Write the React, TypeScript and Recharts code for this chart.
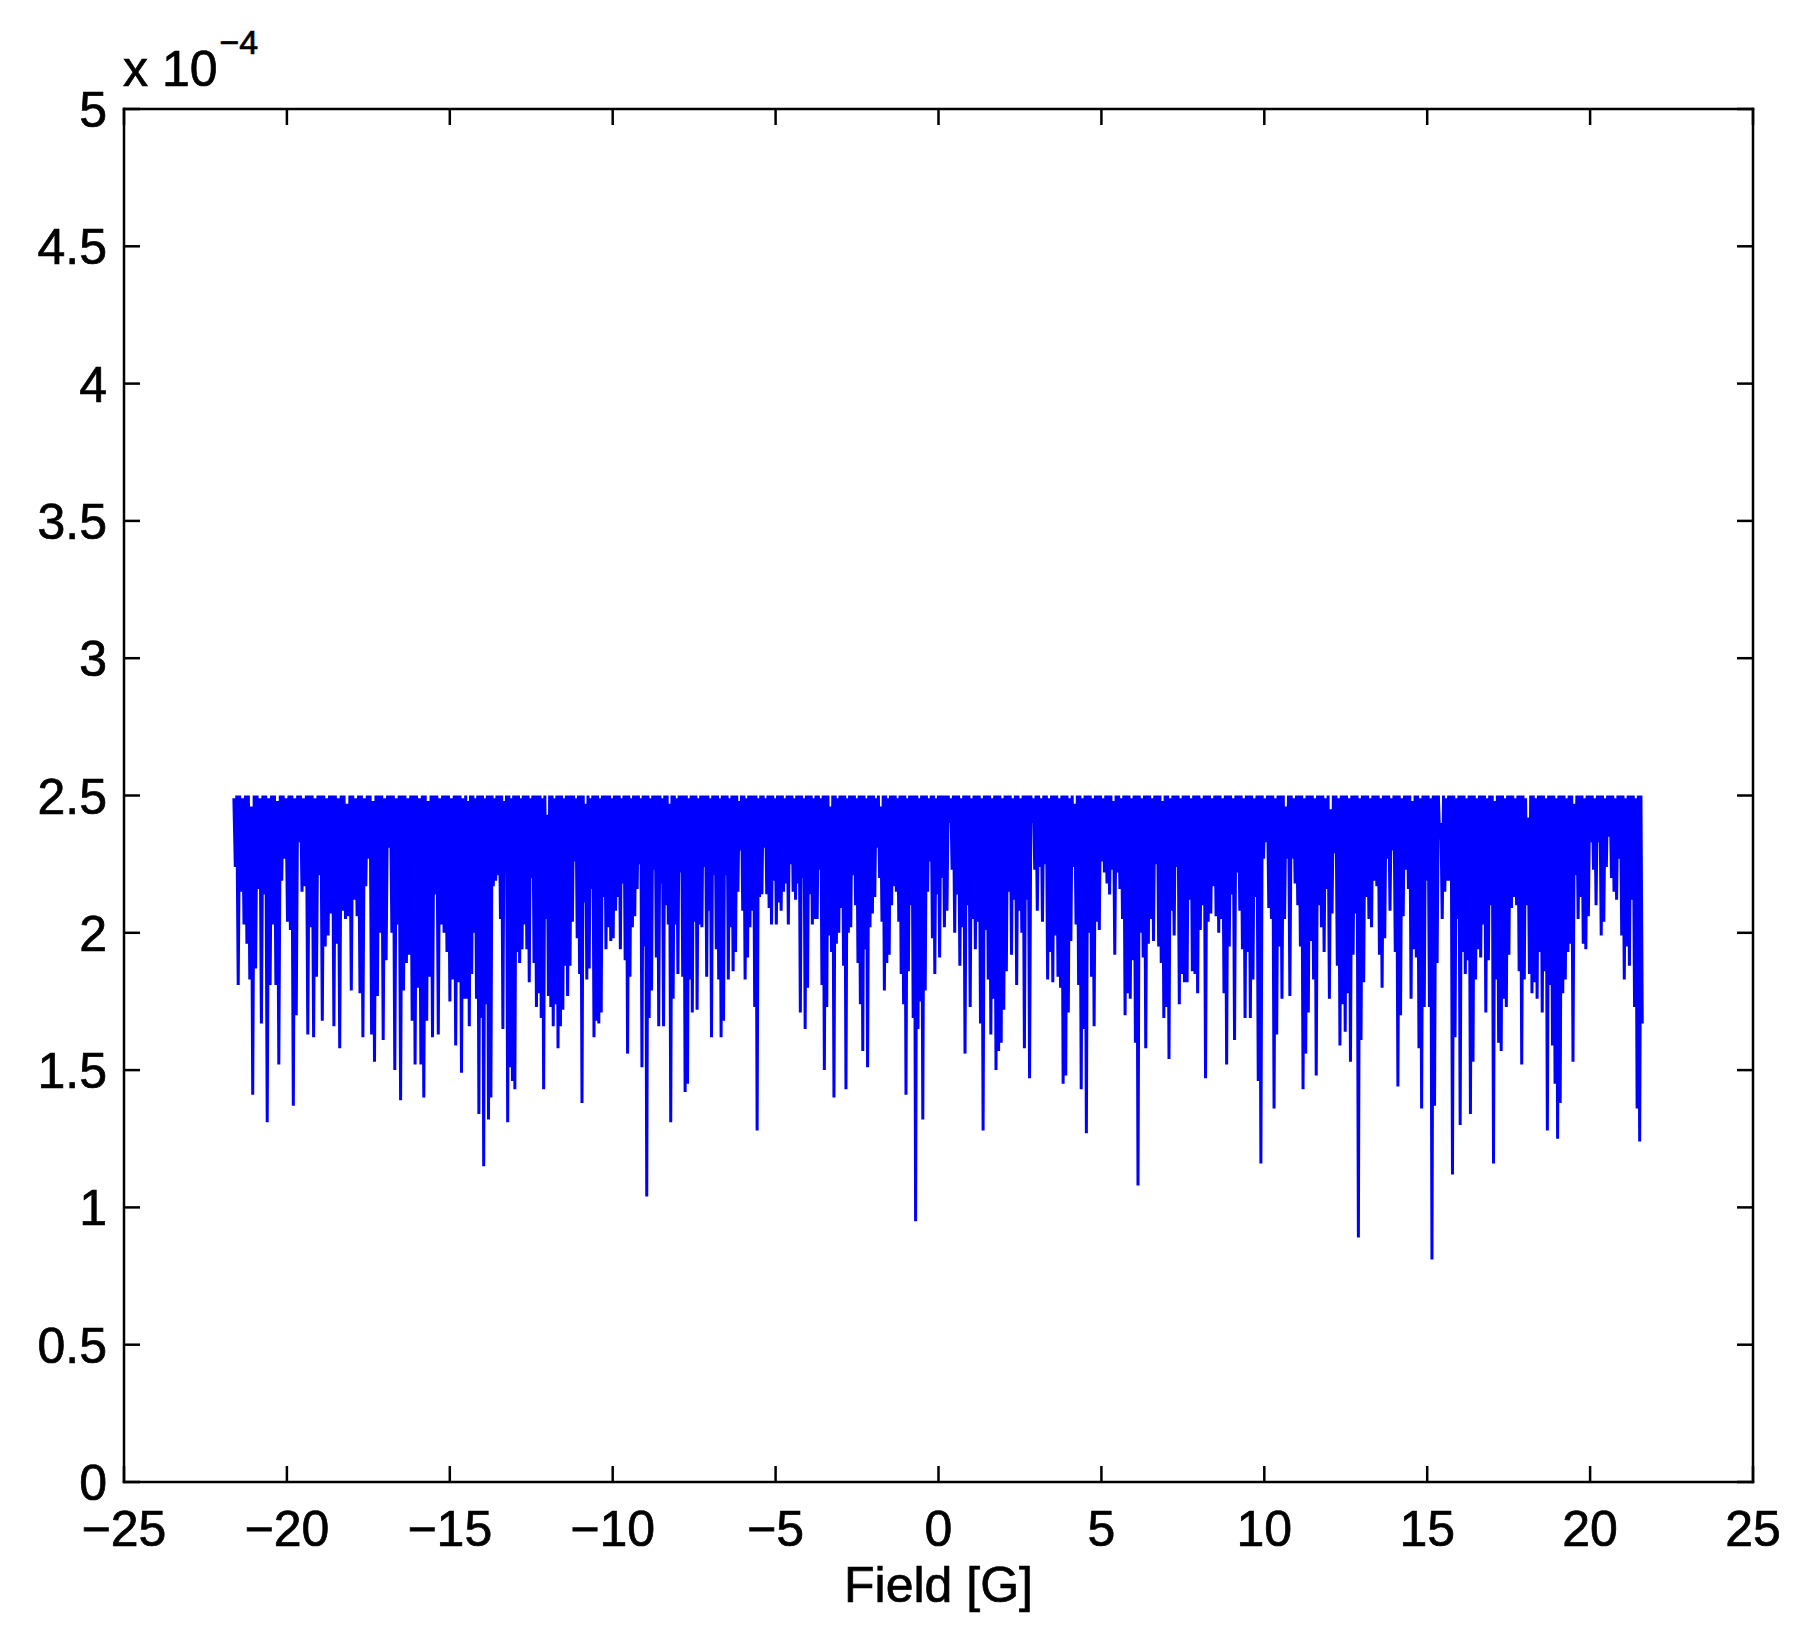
import { ComposedChart, Line, XAxis, YAxis } from 'recharts';

// signal in units of 1e-4 in six field windows.
// each window alternates crest / trough as the sweep oscillates.
const windowA = [
  2.49, 2.24, 2.50, 1.81, 2.50, 2.15, 2.49, 2.03, 2.50, 1.96, 2.50, 1.83, 2.46, 1.41, 2.50, 1.87, 2.50, 2.16, 2.49, 1.67,
  2.50, 2.14, 2.50, 1.31, 2.49, 1.81, 2.50, 2.03, 2.50, 1.81, 2.48, 1.52, 2.50, 2.19, 2.50, 2.27, 2.49, 2.04, 2.50, 2.01,
  2.50, 1.37, 2.49, 1.70, 2.50, 2.33, 2.50, 2.15, 2.49, 2.17, 2.50, 1.63, 2.50, 2.02, 2.50, 1.62, 2.49, 1.84, 2.50, 2.21,
  2.50, 1.68, 2.50, 1.95, 2.49, 1.99, 2.50, 2.07, 2.50, 1.66, 2.50, 1.96, 2.49, 1.58, 2.50, 2.08, 2.50, 2.05, 2.47, 2.06,
  2.50, 1.79, 2.50, 2.12, 2.49, 2.06, 2.50, 1.78, 2.50, 1.62, 2.49, 2.17, 2.50, 2.27, 2.50, 1.63, 2.48, 1.53, 2.50, 1.77,
  2.50, 2.00, 2.50, 1.61, 2.49, 1.90, 2.50, 2.31, 2.50, 2.00, 2.50, 1.50, 2.49, 2.03, 2.50, 1.39, 2.50, 1.79, 2.50, 1.89,
  2.49, 1.92, 2.50, 1.68, 2.50, 1.52, 2.50, 1.80, 2.49, 1.52, 2.50, 1.40, 2.50, 1.68, 2.48, 1.84, 2.50, 1.62, 2.50, 2.14,
  2.50, 1.63, 2.49, 2.03, 2.50, 2.00, 2.50, 1.93, 2.50, 1.75, 2.49, 1.83, 2.50, 1.59, 2.50, 1.82, 2.50, 1.49, 2.49, 1.76,
];

const windowB = [
  2.50, 1.76, 2.48, 1.66, 2.50, 1.85, 2.50, 2.00, 2.49, 1.76, 2.50, 1.34, 2.50, 1.69, 2.50, 1.15, 2.49, 1.74, 2.50, 1.32,
  2.50, 1.40, 2.50, 2.17, 2.49, 2.19, 2.50, 2.21, 2.50, 2.05, 2.50, 1.65, 2.48, 2.22, 2.50, 1.31, 2.50, 1.51, 2.49, 1.46,
  2.50, 1.43, 2.50, 1.93, 2.50, 1.89, 2.49, 1.94, 2.50, 2.03, 2.50, 1.94, 2.50, 1.82, 2.49, 2.20, 2.50, 1.89, 2.50, 1.73,
  2.50, 1.78, 2.50, 1.69, 2.49, 1.43, 2.50, 2.05, 2.43, 1.77, 2.50, 1.73, 2.50, 1.66, 2.49, 1.74, 2.50, 1.58, 2.50, 1.66,
  2.50, 1.72, 2.49, 1.88, 2.50, 1.77, 2.50, 1.88, 2.50, 2.04, 2.50, 2.26, 2.49, 1.98, 2.50, 1.85, 2.50, 1.38, 2.50, 2.11,
  2.47, 1.83, 2.50, 1.87, 2.49, 2.16, 2.50, 1.62, 2.50, 1.68, 2.50, 1.67, 2.49, 1.71, 2.50, 2.13, 2.50, 1.94, 2.50, 2.02,
  2.50, 1.97, 2.49, 1.98, 2.50, 2.08, 2.50, 2.13, 2.50, 1.94, 2.49, 2.18, 2.50, 1.90, 2.50, 1.56, 2.50, 1.84, 2.49, 2.02,
  2.50, 2.06, 2.50, 2.16, 2.50, 2.25, 2.49, 1.51, 2.50, 1.95, 2.50, 1.04, 2.50, 1.69, 2.49, 1.79, 2.50, 2.23, 2.50, 1.91,
  2.50, 1.66, 2.50, 2.18, 2.49, 1.66, 2.50, 2.10, 2.50, 2.03, 2.47, 1.31, 2.50, 1.76, 2.50, 2.03, 2.49, 1.85, 2.50, 2.22,
  2.50, 1.84, 2.50, 1.42, 2.50, 1.45, 2.49, 1.83, 2.50, 1.71, 2.50, 2.04, 2.50, 1.72, 2.49, 2.03, 2.50, 2.02, 2.50, 2.24,
];

const windowC = [
  2.50, 1.84, 2.50, 2.08, 2.49, 1.62, 2.50, 2.21, 2.50, 1.94, 2.50, 1.83, 2.49, 1.62, 2.50, 1.68, 2.50, 2.21, 2.50, 1.83,
  2.49, 2.02, 2.50, 1.86, 2.50, 1.93, 2.50, 2.15, 2.48, 2.30, 2.50, 2.08, 2.50, 1.83, 2.49, 1.91, 2.50, 2.02, 2.50, 2.08,
  2.50, 1.73, 2.50, 1.28, 2.49, 2.13, 2.50, 2.14, 2.50, 2.31, 2.49, 2.14, 2.50, 2.09, 2.50, 2.03, 2.50, 2.19, 2.49, 2.03,
  2.50, 2.11, 2.50, 2.08, 2.50, 2.15, 2.49, 2.18, 2.50, 2.03, 2.50, 2.25, 2.50, 2.15, 2.49, 2.12, 2.50, 2.18, 2.50, 1.71,
  2.50, 2.20, 2.49, 1.65, 2.50, 1.80, 2.50, 2.14, 2.50, 2.03, 2.49, 2.05, 2.50, 2.05, 2.50, 2.23, 2.49, 1.81, 2.50, 1.50,
  2.50, 1.73, 2.50, 1.99, 2.46, 1.93, 2.50, 1.40, 2.50, 1.96, 2.49, 2.00, 2.50, 2.09, 2.50, 1.88, 2.50, 1.43, 2.49, 2.00,
  2.50, 2.02, 2.50, 2.21, 2.50, 2.10, 2.49, 1.89, 2.50, 1.74, 2.50, 1.57, 2.50, 1.94, 2.49, 1.51, 2.50, 2.02, 2.50, 2.07,
  2.50, 2.13, 2.49, 2.31, 2.50, 2.20, 2.46, 2.04, 2.50, 1.79, 2.50, 1.89, 2.49, 1.92, 2.50, 2.10, 2.50, 2.17, 2.50, 2.15,
  2.49, 2.04, 2.50, 1.85, 2.50, 1.74, 2.50, 1.41, 2.49, 1.86, 2.50, 2.10, 2.50, 1.69, 2.50, 0.95, 2.50, 1.65, 2.49, 1.75,
  2.50, 1.32, 2.50, 1.79, 2.50, 2.15, 2.49, 2.26, 2.50, 1.98, 2.50, 1.85, 2.49, 2.14, 2.50, 1.91, 2.50, 2.20, 2.50, 2.02,
];

const windowD = [
  2.50, 2.08, 2.50, 2.40, 2.49, 2.23, 2.50, 2.00, 2.50, 2.14, 2.50, 1.88, 2.49, 2.02, 2.50, 1.56, 2.50, 2.10, 2.50, 1.73,
  2.49, 2.05, 2.50, 1.94, 2.50, 2.04, 2.50, 1.67, 2.49, 1.28, 2.50, 2.01, 2.50, 1.83, 2.50, 1.63, 2.49, 1.76, 2.50, 1.50,
  2.50, 1.57, 2.50, 1.60, 2.49, 1.72, 2.50, 1.86, 2.50, 2.15, 2.50, 1.92, 2.49, 2.12, 2.50, 1.81, 2.50, 2.08, 2.49, 2.00,
  2.50, 1.58, 2.50, 2.12, 2.50, 1.47, 2.50, 2.40, 2.49, 2.23, 2.50, 2.08, 2.50, 2.24, 2.49, 2.04, 2.50, 2.25, 2.50, 1.83,
  2.49, 1.93, 2.50, 1.82, 2.50, 1.99, 2.50, 1.84, 2.49, 1.80, 2.50, 1.45, 2.50, 1.48, 2.50, 1.71, 2.49, 1.97, 2.50, 2.24,
  2.47, 2.03, 2.50, 1.81, 2.50, 1.43, 2.49, 1.65, 2.50, 1.27, 2.50, 2.00, 2.50, 1.84, 2.49, 1.66, 2.50, 2.04, 2.50, 2.01,
  2.50, 2.26, 2.49, 2.22, 2.50, 2.18, 2.50, 2.14, 2.50, 2.23, 2.48, 1.92, 2.50, 2.22, 2.50, 2.16, 2.49, 2.05, 2.50, 1.70,
  2.50, 1.78, 2.50, 1.76, 2.49, 1.90, 2.50, 1.60, 2.50, 1.08, 2.50, 2.00, 2.49, 1.91, 2.50, 1.58, 2.50, 1.96, 2.50, 2.05,
  2.49, 1.97, 2.50, 2.25, 2.50, 1.95, 2.50, 1.89, 2.48, 1.69, 2.50, 1.73, 2.50, 1.54, 2.49, 2.08, 2.50, 1.99, 2.50, 2.24,
  2.50, 1.74, 2.49, 1.85, 2.50, 1.82,
];

const windowE = [
  2.50, 1.82, 2.50, 2.12, 2.49, 1.86, 2.50, 1.85, 2.50, 1.78, 2.50, 2.01, 2.49, 2.10, 2.50, 1.47, 2.50, 2.04, 2.50, 2.07,
  2.49, 2.17, 2.50, 2.06, 2.50, 2.00, 2.50, 2.05, 2.49, 1.78, 2.50, 1.52, 2.50, 1.95, 2.50, 2.14, 2.49, 1.61, 2.50, 2.22,
  2.50, 2.08, 2.50, 1.94, 2.49, 1.69, 2.50, 1.93, 2.50, 1.69, 2.50, 1.83, 2.49, 2.13, 2.50, 1.46, 2.50, 1.16, 2.50, 2.27,
  2.49, 2.33, 2.50, 2.09, 2.50, 2.05, 2.50, 1.36, 2.49, 1.63, 2.50, 1.95, 2.50, 1.76, 2.50, 2.05, 2.46, 2.27, 2.50, 1.77,
  2.50, 2.27, 2.49, 2.18, 2.50, 2.10, 2.50, 1.95, 2.50, 1.43, 2.49, 1.56, 2.50, 1.71, 2.50, 1.97, 2.50, 1.83, 2.49, 1.48,
  2.50, 2.10, 2.50, 2.02, 2.50, 1.93, 2.49, 2.16, 2.50, 1.76, 2.45, 2.07, 2.50, 2.29, 2.50, 1.88, 2.49, 1.59, 2.50, 1.74,
  2.50, 1.64, 2.50, 1.78, 2.49, 1.53, 2.50, 1.92, 2.50, 2.07, 2.50, 0.89, 2.49, 1.61, 2.50, 1.82, 2.50, 2.13, 2.50, 2.05,
  2.49, 2.02, 2.50, 2.19, 2.50, 2.17, 2.50, 1.92, 2.49, 1.80, 2.50, 1.98, 2.50, 2.27, 2.50, 2.08, 2.49, 2.30, 2.50, 1.93,
  2.50, 1.44, 2.50, 1.70, 2.49, 2.06, 2.50, 2.23, 2.50, 2.16, 2.50, 1.76, 2.48, 1.94, 2.50, 1.91, 2.50, 1.58, 2.49, 1.36,
  2.50, 1.73,
];

const windowF = [
  2.50, 2.19, 2.50, 1.73, 2.49, 0.81, 2.50, 1.37, 2.50, 1.89, 2.50, 2.34, 2.40, 2.05, 2.50, 2.15, 2.49, 2.19, 2.50, 2.19,
  2.50, 1.12, 2.50, 1.62, 2.49, 2.05, 2.50, 1.30, 2.50, 1.93, 2.50, 1.85, 2.49, 1.90, 2.50, 1.34, 2.50, 1.53, 2.50, 1.83,
  2.49, 1.94, 2.50, 1.91, 2.50, 2.03, 2.50, 1.71, 2.49, 1.90, 2.50, 2.10, 2.50, 1.16, 2.48, 1.83, 2.50, 1.60, 2.50, 1.57,
  2.50, 1.76, 2.49, 1.73, 2.50, 1.92, 2.50, 2.09, 2.50, 2.13, 2.49, 2.10, 2.50, 1.86, 2.50, 1.52, 2.50, 1.83, 2.49, 2.10,
  2.42, 1.85, 2.50, 1.78, 2.50, 1.82, 2.49, 1.76, 2.50, 1.93, 2.50, 1.71, 2.50, 1.86, 2.49, 1.28, 2.50, 1.81, 2.50, 1.59,
  2.50, 1.45, 2.49, 1.25, 2.50, 1.38, 2.50, 1.78, 2.50, 1.83, 2.49, 1.93, 2.50, 1.96, 2.50, 1.53, 2.47, 2.21, 2.50, 2.05,
  2.50, 2.13, 2.50, 1.96, 2.49, 1.94, 2.50, 2.06, 2.50, 2.33, 2.50, 2.23, 2.49, 2.10, 2.50, 2.33, 2.50, 1.99, 2.50, 2.04,
  2.49, 2.24, 2.50, 2.35, 2.50, 2.20, 2.50, 2.15, 2.49, 2.12, 2.50, 2.27, 2.50, 1.99, 2.50, 1.83, 2.49, 1.95, 2.50, 1.88,
  2.50, 2.12, 2.50, 1.73, 2.49, 1.36, 2.50, 1.24, 2.50, 1.67,
];

// field range [G] covered by each window
const fieldWindows = [
  { from: -21.65, to: -14.53, values: windowA },
  { from: -14.53, to: -7.17, values: windowB },
  { from: -7.17, to: 0.2, values: windowC },
  { from: 0.2, to: 7.57, values: windowD },
  { from: 7.57, to: 14.93, values: windowE },
  { from: 14.93, to: 21.62, values: windowF },
];

const fieldTicks = [-25, -20, -15, -10, -5, 0, 5, 10, 15, 20, 25];
const signalTicks = [0, 0.5, 1, 1.5, 2, 2.5, 3, 3.5, 4, 4.5, 5];

const data = fieldWindows.flatMap(({ from, to, values }) =>
  values.map((signal, i) => ({
    field: from + ((i + 0.5) * (to - from)) / values.length,
    signal,
  })),
);

// page geometry of the axes box
const W = 1807;
const H = 1636;
const BOX = { left: 124, top: 109, right: 1753, bottom: 1482 };
const Y_AXIS_W = 100;
const X_AXIS_H = 80;
const BOX_W = BOX.right - BOX.left;
const BOX_H = BOX.bottom - BOX.top;

const FONT = '"Liberation Sans", Arial, Helvetica, sans-serif';
const TICK_LEN = 16;
const INK = '#000';
const axisStroke = { stroke: INK, strokeWidth: 2.5, strokeLinecap: 'square' as const };
// helvetica in the original renders a touch heavier than liberation sans
const textInk = { fill: INK, stroke: INK, strokeWidth: 0.7, fontFamily: FONT };

const fmtField = (v: number) => (v < 0 ? `\u2212${Math.abs(v)}` : `${v}`);
const fmtSignal = (v: number) => (Number.isInteger(v) ? `${v}` : v.toFixed(1));

// matlab style: ticks point into the box, mirrored on the opposite side
function BottomTick({ x, y, payload }: any) {
  const top = y - BOX_H;
  return (
    <g>
      <line x1={x} y1={y} x2={x} y2={y - TICK_LEN} stroke={INK} strokeWidth={2.5} />
      <line x1={x} y1={top} x2={x} y2={top + TICK_LEN} stroke={INK} strokeWidth={2.5} />
      <text x={x} y={y + 64} textAnchor="middle" fontSize={50} {...textInk}>
        {fmtField(payload.value)}
      </text>
    </g>
  );
}

function LeftTick({ x, y, payload }: any) {
  const right = x + BOX_W;
  return (
    <g>
      <line x1={x} y1={y} x2={x + TICK_LEN} y2={y} stroke={INK} strokeWidth={2.5} />
      <line x1={right} y1={y} x2={right - TICK_LEN} y2={y} stroke={INK} strokeWidth={2.5} />
      <text x={x - 17} y={y + 18} textAnchor="end" fontSize={50} {...textInk}>
        {fmtSignal(payload.value)}
      </text>
    </g>
  );
}

function ScaleNote(props: any) {
  const vb = props.viewBox || { x: BOX.left - Y_AXIS_W, y: BOX.top, width: Y_AXIS_W };
  const left = vb.x + vb.width - 1;
  return (
    <text x={left} y={vb.y - 23} fontSize={50} {...textInk}>
      x 10
      <tspan dy={-32} dx={2} fontSize={34}>
        {'\u22124'}
      </tspan>
    </text>
  );
}

function FieldLabel(props: any) {
  const vb = props.viewBox || { x: BOX.left, y: BOX.bottom, width: BOX_W };
  return (
    <text x={vb.x + vb.width / 2} y={vb.y + 120} fontSize={50} textAnchor="middle" {...textInk}>
      Field [G]
    </text>
  );
}

export default function App() {
  return (
    <div style={{ position: 'absolute', left: 0, top: 0, width: W, height: H, background: '#fff' }}>
      <ComposedChart
        width={W}
        height={H}
        data={data}
        margin={{
          top: BOX.top - 1,
          right: W - BOX.right - 1,
          left: BOX.left - Y_AXIS_W,
          bottom: H - BOX.bottom - X_AXIS_H,
        }}
      >
        <XAxis
          dataKey="field"
          type="number"
          domain={[-25, 25]}
          ticks={fieldTicks}
          interval={0}
          allowDataOverflow
          height={X_AXIS_H}
          tick={<BottomTick />}
          tickSize={0}
          tickMargin={0}
          axisLine={axisStroke}
          tickLine={false}
          label={{ content: (p: any) => <FieldLabel {...p} /> }}
        />
        <XAxis
          xAxisId="top"
          orientation="top"
          type="number"
          domain={[-25, 25]}
          allowDataOverflow
          height={1}
          tick={false}
          tickLine={false}
          axisLine={axisStroke}
        />
        <YAxis
          type="number"
          domain={[0, 5]}
          ticks={signalTicks}
          interval={0}
          allowDataOverflow
          width={Y_AXIS_W}
          tick={<LeftTick />}
          tickSize={0}
          tickMargin={0}
          axisLine={axisStroke}
          tickLine={false}
          label={{ content: (p: any) => <ScaleNote {...p} /> }}
        />
        <YAxis
          yAxisId="right"
          orientation="right"
          type="number"
          domain={[0, 5]}
          allowDataOverflow
          width={1}
          tick={false}
          tickLine={false}
          axisLine={axisStroke}
        />
        <Line
          dataKey="signal"
          type="linear"
          stroke="#0000ff"
          strokeWidth={3}
          dot={false}
          activeDot={false}
          isAnimationActive={false}
        />
      </ComposedChart>
    </div>
  );
}
